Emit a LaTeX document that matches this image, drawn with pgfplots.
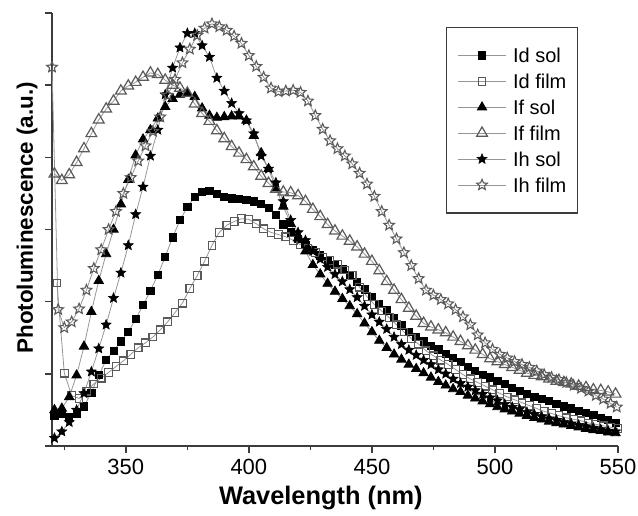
\documentclass[border=0pt]{standalone}
\usepackage{fontspec}
\setmainfont{Liberation Sans}
\usepackage{pgfplots}
\usepackage{pgfplotstable}
\pgfplotsset{compat=1.18}
\definecolor{mgray}{RGB}{90,90,90}
\definecolor{lgray}{RGB}{150,150,150}
\definecolor{axgray}{RGB}{60,60,60}

\pgfdeclareplotmark{fivestar*}{%
  \pgfpathmoveto{\pgfqpointpolar{90}{\pgfplotmarksize}}%
  \pgfpathlineto{\pgfqpointpolar{126}{0.45\pgfplotmarksize}}%
  \pgfpathlineto{\pgfqpointpolar{162}{\pgfplotmarksize}}%
  \pgfpathlineto{\pgfqpointpolar{198}{0.45\pgfplotmarksize}}%
  \pgfpathlineto{\pgfqpointpolar{234}{\pgfplotmarksize}}%
  \pgfpathlineto{\pgfqpointpolar{270}{0.45\pgfplotmarksize}}%
  \pgfpathlineto{\pgfqpointpolar{306}{\pgfplotmarksize}}%
  \pgfpathlineto{\pgfqpointpolar{342}{0.45\pgfplotmarksize}}%
  \pgfpathlineto{\pgfqpointpolar{18}{\pgfplotmarksize}}%
  \pgfpathlineto{\pgfqpointpolar{54}{0.45\pgfplotmarksize}}%
  \pgfpathclose
  \pgfusepathqfillstroke
}
\pgfdeclareplotmark{fivestar}{%
  \pgfpathmoveto{\pgfqpointpolar{90}{\pgfplotmarksize}}%
  \pgfpathlineto{\pgfqpointpolar{126}{0.45\pgfplotmarksize}}%
  \pgfpathlineto{\pgfqpointpolar{162}{\pgfplotmarksize}}%
  \pgfpathlineto{\pgfqpointpolar{198}{0.45\pgfplotmarksize}}%
  \pgfpathlineto{\pgfqpointpolar{234}{\pgfplotmarksize}}%
  \pgfpathlineto{\pgfqpointpolar{270}{0.45\pgfplotmarksize}}%
  \pgfpathlineto{\pgfqpointpolar{306}{\pgfplotmarksize}}%
  \pgfpathlineto{\pgfqpointpolar{342}{0.45\pgfplotmarksize}}%
  \pgfpathlineto{\pgfqpointpolar{18}{\pgfplotmarksize}}%
  \pgfpathlineto{\pgfqpointpolar{54}{0.45\pgfplotmarksize}}%
  \pgfpathclose
  \pgfusepathqstroke
}

\pgfplotstableread{
x y
321 0.42
324 0.44
327 0.40
330 0.45
333 0.55
336 0.74
339 0.98
342 1.19
345 1.32
348 1.45
351 1.58
354 1.76
357 1.95
360 2.15
363 2.37
366 2.62
369 2.89
372 3.13
375 3.31
378 3.45
381 3.52
384 3.53
387 3.49
390 3.45
393 3.43
396 3.42
399 3.41
402 3.39
405 3.36
408 3.30
411 3.20
414 3.07
417 2.96
420 2.87
423 2.79
426 2.72
429 2.64
432 2.57
435 2.51
438 2.45
441 2.37
444 2.27
447 2.17
450 2.07
453 1.97
456 1.88
459 1.77
462 1.67
465 1.58
468 1.51
471 1.45
474 1.39
477 1.34
480 1.28
483 1.22
486 1.16
489 1.10
492 1.04
495 0.99
498 0.95
501 0.90
504 0.86
507 0.80
510 0.76
513 0.72
516 0.68
519 0.65
522 0.62
525 0.58
528 0.55
531 0.52
534 0.49
537 0.46
540 0.43
543 0.39
546 0.36
549 0.32
}\idsol

\pgfplotstableread{
x y
322 2.26
325 1.01
328 0.70
331 0.66
334 0.76
337 0.86
340 0.94
343 1.02
346 1.10
349 1.18
352 1.27
355 1.36
358 1.43
361 1.51
364 1.61
367 1.72
370 1.85
373 1.98
376 2.18
379 2.36
382 2.56
385 2.78
388 2.96
391 3.06
394 3.11
397 3.15
400 3.14
403 3.08
406 3.01
409 2.96
412 2.93
415 2.90
418 2.85
421 2.79
424 2.74
427 2.68
430 2.62
433 2.57
436 2.52
439 2.44
442 2.36
445 2.20
448 2.07
451 1.96
454 1.87
457 1.78
460 1.68
463 1.58
466 1.49
469 1.41
472 1.32
475 1.25
478 1.19
481 1.13
484 1.06
487 0.99
490 0.93
493 0.88
496 0.83
499 0.78
502 0.73
505 0.68
508 0.64
511 0.60
514 0.56
517 0.52
520 0.48
523 0.45
526 0.42
529 0.39
532 0.37
535 0.35
538 0.32
541 0.30
544 0.28
547 0.26
550 0.24
}\idfilm

\pgfplotstableread{
x y
321 0.50
324 0.52
327 0.68
330 0.98
333 1.38
336 1.86
339 2.29
342 2.66
345 3.00
348 3.35
351 3.69
354 4.03
357 4.25
360 4.38
363 4.54
366 4.70
369 4.81
372 4.87
375 4.89
378 4.84
381 4.68
384 4.58
387 4.55
390 4.56
393 4.57
396 4.57
399 4.51
402 4.30
405 4.06
408 3.84
411 3.57
414 3.32
417 3.08
420 2.88
423 2.70
426 2.51
429 2.38
432 2.25
435 2.14
438 2.04
441 1.94
444 1.83
447 1.70
450 1.58
453 1.46
456 1.36
459 1.27
462 1.20
465 1.13
468 1.07
471 1.01
474 0.95
477 0.89
480 0.84
483 0.79
486 0.75
489 0.70
492 0.66
495 0.62
498 0.58
501 0.54
504 0.51
507 0.48
510 0.45
513 0.42
516 0.39
519 0.37
522 0.34
525 0.32
528 0.30
531 0.28
534 0.26
537 0.24
540 0.22
543 0.21
546 0.19
549 0.18
}\ifsol

\pgfplotstableread{
x y
321 3.77
324 3.68
327 3.76
330 3.93
333 4.12
336 4.33
339 4.52
342 4.67
345 4.78
348 4.92
351 4.99
354 5.04
357 5.11
360 5.17
363 5.15
366 5.07
369 5.00
372 4.96
375 4.89
378 4.74
381 4.61
384 4.50
387 4.37
390 4.26
393 4.15
396 4.06
399 3.97
402 3.87
405 3.74
408 3.64
411 3.56
414 3.52
417 3.51
420 3.47
423 3.39
426 3.28
429 3.18
432 3.07
435 2.98
438 2.91
441 2.84
444 2.76
447 2.66
450 2.56
453 2.43
456 2.28
459 2.16
462 2.03
465 1.91
468 1.80
471 1.70
474 1.65
477 1.61
480 1.57
483 1.51
486 1.45
489 1.39
492 1.33
495 1.27
498 1.21
501 1.17
504 1.13
507 1.09
510 1.05
513 1.01
516 0.98
519 0.96
522 0.93
525 0.90
528 0.88
531 0.86
534 0.83
537 0.81
540 0.78
543 0.77
546 0.75
549 0.72
}\iffilm

\pgfplotstableread{
x y
321 0.11
324 0.20
327 0.33
330 0.50
333 0.73
336 1.03
339 1.35
342 1.68
345 2.05
348 2.40
351 2.78
354 3.21
357 3.59
360 4.02
363 4.38
366 4.87
369 5.24
372 5.52
375 5.72
378 5.72
381 5.55
384 5.39
387 5.10
390 4.92
393 4.75
396 4.61
399 4.51
402 4.33
405 4.02
408 3.84
411 3.65
414 3.39
417 3.13
420 2.96
423 2.85
426 2.70
429 2.59
432 2.48
435 2.38
438 2.28
441 2.17
444 2.06
447 1.94
450 1.82
453 1.72
456 1.62
459 1.51
462 1.41
465 1.33
468 1.26
471 1.19
474 1.13
477 1.06
480 1.00
483 0.93
486 0.87
489 0.82
492 0.77
495 0.72
498 0.67
501 0.63
504 0.58
507 0.54
510 0.51
513 0.47
516 0.44
519 0.41
522 0.38
525 0.36
528 0.33
531 0.31
534 0.29
537 0.27
540 0.25
543 0.23
546 0.21
549 0.20
}\ihsol

\pgfplotstableread{
x y
320 5.25
322.5 1.89
325 1.64
328 1.72
331 1.90
334 2.16
337 2.46
340 2.72
343 3.00
346 3.25
349 3.50
352 3.72
355 3.95
358 4.16
361 4.36
364 4.56
367 4.86
370 5.08
373 5.31
376 5.50
379 5.69
382 5.79
385 5.85
388 5.81
391 5.76
394 5.68
397 5.58
400 5.41
403 5.26
406 5.11
409 4.96
412 4.91
415 4.92
418 4.93
421 4.90
424 4.78
427 4.58
430 4.39
433 4.23
436 4.12
439 4.02
442 3.91
445 3.78
448 3.63
451 3.46
454 3.25
457 3.06
460 2.87
463 2.68
466 2.50
469 2.32
472 2.16
475 2.09
478 2.03
481 1.97
484 1.89
487 1.79
490 1.68
493 1.54
496 1.43
499 1.34
502 1.27
505 1.22
508 1.17
511 1.13
514 1.09
517 1.04
520 0.99
523 0.95
526 0.92
529 0.88
532 0.84
535 0.80
538 0.76
541 0.70
544 0.65
547 0.59
549.5 0.54
}\ihfilm

\begin{document}
\begin{tikzpicture}
\useasboundingbox (-26pt,-34.5pt) rectangle (293pt,223pt);
\begin{axis}[
  scale only axis, width=283pt, height=216.5pt,
  xmin=320, xmax=550, ymin=0, ymax=6,
  axis lines=left,
  axis line style={-, axgray, line width=0.9pt},
  tick align=outside,
  tick style={axgray, line width=0.8pt},
  major tick length=3.5pt, minor tick length=2.2pt,
  xtick={350,400,...,550}, minor xtick={325,375,...,525},
  ytick={0,1,...,6}, yticklabels={},
  /pgf/number format/assume math mode=true,
  xticklabel style={font=\fontsize{11}{13}\selectfont, anchor=base, yshift=-10.5pt},
  xlabel={Wavelength (nm)},
  ylabel={Photoluminescence (a.u.)},
  xlabel style={font=\fontsize{12.7}{14}\selectfont\bfseries, at={([yshift=-29pt]axis description cs:0.475,0)}, anchor=base},
  ylabel style={font=\fontsize{11.2}{13}\selectfont\bfseries, at={([xshift=-9.5pt]axis description cs:0,0.527)}, anchor=base},
  legend style={at={(rel axis cs:0.696,0.9686)}, anchor=north west,
    draw=axgray, line width=0.7pt, fill=white,
    inner xsep=5.5pt, inner ysep=7.6pt,
    font=\fontsize{10}{12}\selectfont,
    row sep=0pt, column sep=3.3pt,
    nodes={inner sep=0pt, text height=10.1pt, text depth=2.85pt},
    cells={anchor=west}},
  legend image code/.code={\draw[mark repeat=2,mark phase=2,#1] plot coordinates {(0pt,0pt) (12pt,0pt) (24pt,0pt)};},
]
\addplot[color=lgray, line width=0.4pt, mark=square*, mark size=1.8pt, mark options={draw=black, fill=black, line width=0.4pt}] table {\idsol};
\addlegendentry{Id sol}
\addplot[color=lgray, line width=0.4pt, mark=square, mark size=1.9pt, mark options={draw=mgray, line width=0.6pt}] table {\idfilm};
\addlegendentry{Id film}
\addplot[color=lgray, line width=0.4pt, mark=triangle*, mark size=2.7pt, mark options={draw=black, fill=black, line width=0.4pt}] table {\ifsol};
\addlegendentry{If sol}
\addplot[color=lgray, line width=0.4pt, mark=triangle, mark size=3.1pt, mark options={draw=mgray, line width=0.6pt}] table {\iffilm};
\addlegendentry{If film}
\addplot[color=lgray, line width=0.4pt, mark=fivestar*, mark size=2.6pt, mark options={draw=black, fill=black, line width=0.3pt}] table {\ihsol};
\addlegendentry{Ih sol}
\addplot[color=lgray, line width=0.4pt, mark=fivestar, mark size=2.8pt, mark options={draw=mgray, line width=0.55pt}] table {\ihfilm};
\addlegendentry{Ih film}
\end{axis}
\end{tikzpicture}
\end{document}
